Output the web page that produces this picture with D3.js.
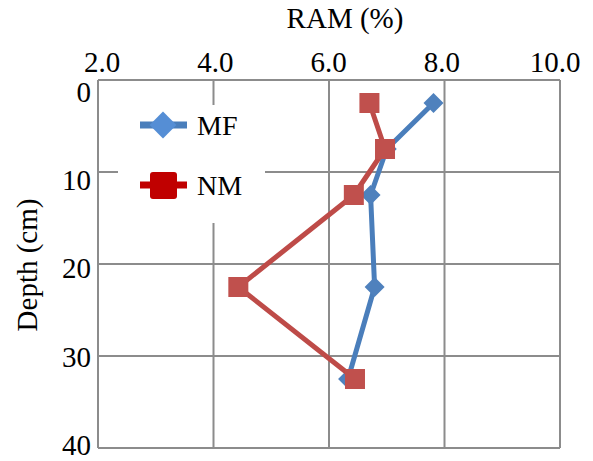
<!DOCTYPE html>
<html><head><meta charset="utf-8">
<script src="https://cdn.jsdelivr.net/npm/d3@7"></script>
<style>body{margin:0;background:#fff}svg{display:block}text{font-family:"Liberation Serif","Times New Roman","Tinos","DejaVu Serif",serif;fill:#000}</style>
</head><body><svg id="c" width="593" height="461"></svg>
<script>
const depths = [2.5, 7.5, 12.5, 22.5, 32.5];
const mfValues = [7.81, 7.0, 6.72, 6.79, 6.33];
const nmValues = [6.70, 6.97, 6.43, 4.43, 6.45];
const xTicks = [2, 4, 6, 8, 10];
const yTicks = [0, 10, 20, 30, 40];
const seriesNames = ["MF", "NM"];

const FONT = '"Liberation Serif","Times New Roman","Tinos","DejaVu Serif",serif';
const svg = d3.select("#c");
const L = 98, R = 560, T = 80, B = 448;
const x = d3.scaleLinear().domain([2, 10]).range([L, R]);
const y = d3.scaleLinear().domain([0, 40]).range([T, B]);
// label placement scales (labels in the reference sit slightly compressed vs. gridlines)
const xLab = d3.scaleLinear().domain([2, 10]).range([102, 555]);
const yLab = d3.scaleLinear().domain([0, 40]).range([92, 445]);
const grid = "#8c8c8c";

// gridlines
svg.append("g").selectAll("line").data(xTicks).join("line")
  .attr("x1", d => x(d)).attr("x2", d => x(d)).attr("y1", T).attr("y2", B)
  .attr("stroke", grid).attr("stroke-width", 2);
svg.append("g").selectAll("line").data(yTicks).join("line")
  .attr("x1", L).attr("x2", R).attr("y1", d => y(d)).attr("y2", d => y(d))
  .attr("stroke", grid).attr("stroke-width", 2);

// tick labels
const fx = d3.format(".1f");
svg.append("g").selectAll("text").data(xTicks).join("text")
  .attr("x", d => xLab(d)).attr("y", 72).attr("text-anchor", "middle")
  .style("font-family", FONT).style("font-size", "29px").text(d => fx(d));
svg.append("g").selectAll("text").data(yTicks).join("text")
  .attr("x", 91).attr("y", d => yLab(d)).attr("dy", "0.34em").attr("text-anchor", "end")
  .style("font-family", FONT).style("font-size", "29px").text(d => d);

// titles
svg.append("text").attr("x", 345).attr("y", 28).attr("text-anchor", "middle")
  .style("font-family", FONT).style("font-size", "29px").text("RAM (%)");
svg.append("text").attr("transform", "translate(37,265) rotate(-90)").attr("text-anchor", "middle")
  .style("font-family", FONT).style("font-size", "29px").text("Depth (cm)");

// legend background
svg.append("rect").attr("x", 118).attr("y", 105).attr("width", 147).attr("height", 118).attr("fill", "#fff");

const mfColor = "#4a7ebb", nmColor = "#be4b48";
const line = vals => d3.line().x((d, i) => x(vals[i])).y(d => y(d))(depths);

// MF
svg.append("path").attr("d", line(mfValues)).attr("fill", "none").attr("stroke", mfColor).attr("stroke-width", 5).attr("stroke-linejoin", "round");
svg.append("g").selectAll("path").data(depths).join("path")
  .attr("d", d3.symbol(d3.symbolSquare, 200))
  .attr("transform", (d, i) => `translate(${x(mfValues[i])},${y(d)}) rotate(45)`)
  .attr("fill", "#4f81bd");

// NM
svg.append("path").attr("d", line(nmValues)).attr("fill", "none").attr("stroke", nmColor).attr("stroke-width", 5).attr("stroke-linejoin", "round");
svg.append("g").selectAll("rect").data(depths).join("rect")
  .attr("x", (d, i) => x(nmValues[i]) - 10).attr("y", d => y(d) - 10)
  .attr("width", 20).attr("height", 20).attr("fill", "#c0504d");

// legend
const lg = svg.append("g");
lg.append("line").attr("x1", 140).attr("x2", 187).attr("y1", 125).attr("y2", 125).attr("stroke", mfColor).attr("stroke-width", 7);
lg.append("path").attr("d", d3.symbol(d3.symbolSquare, 360)).attr("transform", "translate(163,125) rotate(45)").attr("fill", "#558ed5");
lg.append("text").attr("x", 197).attr("y", 135).style("font-family", FONT).style("font-size", "28px").text(seriesNames[0]);
lg.append("line").attr("x1", 140).attr("x2", 187).attr("y1", 185).attr("y2", 185).attr("stroke", "#c00000").attr("stroke-width", 7);
lg.append("rect").attr("x", 150).attr("y", 172).attr("width", 27).attr("height", 27).attr("rx", 3).attr("fill", "#c00000");
lg.append("text").attr("x", 197).attr("y", 195).style("font-family", FONT).style("font-size", "28px").text(seriesNames[1]);
</script></body></html>
